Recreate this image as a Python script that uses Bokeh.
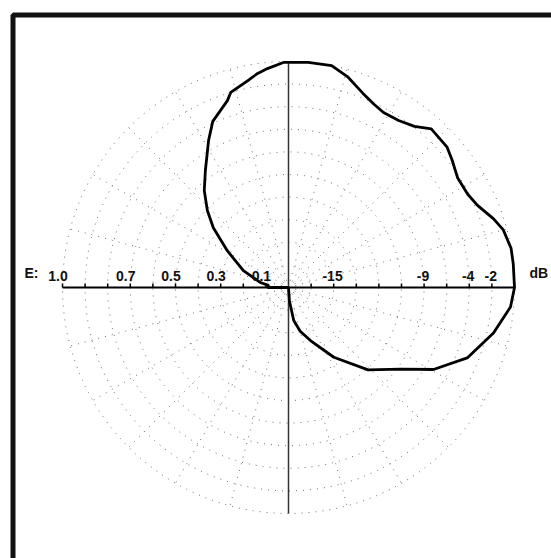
import numpy as np
from bokeh.plotting import figure
from bokeh.models import Range1d, ColumnDataSource
from bokeh.core.properties import value
from bokeh.embed import file_html
from bokeh.resources import INLINE

# Radiation pattern: azimuth (deg, counter-clockwise from +x) and relative field strength E
angle_deg = [-90, -86, -81, -75, -67.5, -57, -46, -36, -29.5, -21.5, -12.5, -5, 0,
             6, 10, 15, 18.5, 23.5, 27.5, 33, 38, 41.5, 48, 52, 56.6, 61.5, 65, 69,
             74.4, 79, 85, 91.3, 95.5, 98.2, 101, 106.5, 108.1, 114.5, 118.5, 120.6, 125.4, 131,
             136.5, 141.5, 149, 159.5, 170, 174, 180, 181]
field_e = [0.0, 0.06, 0.148, 0.20, 0.254, 0.368, 0.507, 0.614, 0.737, 0.850, 0.929, 0.986, 1.0,
           1.0, 1.0, 0.984, 0.957, 0.912, 0.894, 0.892, 0.918, 0.937, 0.944, 0.905, 0.885, 0.881, 0.895, 0.920,
           0.969, 1.0, 1.0, 0.996, 0.973, 0.957, 0.934, 0.900, 0.870, 0.808, 0.741, 0.704, 0.635, 0.568,
           0.495, 0.425, 0.316, 0.213, 0.126, 0.09, 0.09, 0.0]

# Radial scale: linear field strength on the left, dB marks on the right
ring_values = [0.1, 0.2, 0.3, 0.4, 0.5, 0.6, 0.7, 0.8, 0.9, 1.0]
e_labels = ["1.0", "0.7", "0.5", "0.3", "0.1"]
e_label_pos = [1.0, 0.7, 0.5, 0.3, 0.1]
db_labels = ["-15", "-9", "-4", "-2"]
db_label_pos = [0.2, 0.6, 0.8, 0.9]
spoke_angles = list(range(0, 360, 15))

W, H = 551, 558
R_PX = 226.0          # pixels per unit radius
CX, CY = 288.0, 287.0 # centre of the polar plot (pixels from top-left)

def px_x(px):
    return (px - CX) / R_PX

def px_y(py):
    return (CY - py) / R_PX

p = figure(width=W, height=H, output_backend="svg", toolbar_location=None,
           x_range=Range1d(px_x(0), px_x(W)), y_range=Range1d(px_y(H), px_y(0)),
           min_border=0)
p.axis.visible = False
p.grid.visible = False
p.outline_line_color = None
p.background_fill_color = "white"
p.border_fill_color = "white"

# Frame around the chart (continues past the right and bottom edges)
p.line([px_x(12.5), px_x(12.5), px_x(W + 20)], [px_y(H + 20), px_y(14.5), px_y(14.5)],
       line_color="#111111", line_width=5)

# Dotted polar grid
t = np.linspace(0, 2 * np.pi, 361)
for rv in ring_values:
    p.line(rv * np.cos(t), rv * np.sin(t), line_color="#707070", line_width=1,
           line_dash="1 6")
for a in spoke_angles:
    ar = np.deg2rad(a)
    p.line([0, np.cos(ar)], [0, np.sin(ar)], line_color="#707070", line_width=1,
           line_dash="1 6")

# Axes through the centre
p.line([-1.0, 1.0], [0, 0], line_color="black", line_width=2)
p.line([0, 0], [-1.0, 1.0], line_color="#333333", line_width=1.5)

# Tick marks along the horizontal axis
tick_x = [-v for v in ring_values] + ring_values
p.segment(x0=tick_x, y0=[0] * len(tick_x), x1=tick_x, y1=[4 / R_PX] * len(tick_x),
          line_color="black", line_width=1.5)

# Pattern curve
th = np.deg2rad(np.array(angle_deg))
r = np.array(field_e)
p.line(r * np.cos(th), r * np.sin(th), line_color="black", line_width=2.8,
       line_join="round")

# Scale labels
label_y = 7 / R_PX
font = value("Liberation Sans")
src_e = ColumnDataSource(dict(x=[-v - 0.02 for v in e_label_pos], y=[label_y] * len(e_labels),
                              t=e_labels))
p.text(x="x", y="y", text="t", source=src_e, text_font=font, text_font_size="14px",
       text_font_style="bold", text_align="center", text_baseline="bottom", text_color="#111111")
src_db = ColumnDataSource(dict(x=[v - 0.005 for v in db_label_pos], y=[label_y] * len(db_labels),
                               t=db_labels))
p.text(x="x", y="y", text="t", source=src_db, text_font=font, text_font_size="14px",
       text_font_style="bold", text_align="center", text_baseline="bottom", text_color="#111111")
p.text(x=[px_x(24)], y=[label_y], text=["E:"], text_font=font, text_font_size="14px",
       text_font_style="bold", text_align="left", text_baseline="bottom", text_color="#111111")
p.text(x=[px_x(529)], y=[label_y], text=["dB"], text_font=font, text_font_size="14px",
       text_font_style="bold", text_align="left", text_baseline="bottom", text_color="#111111")

open("out.html", "w").write(file_html(p, INLINE))
